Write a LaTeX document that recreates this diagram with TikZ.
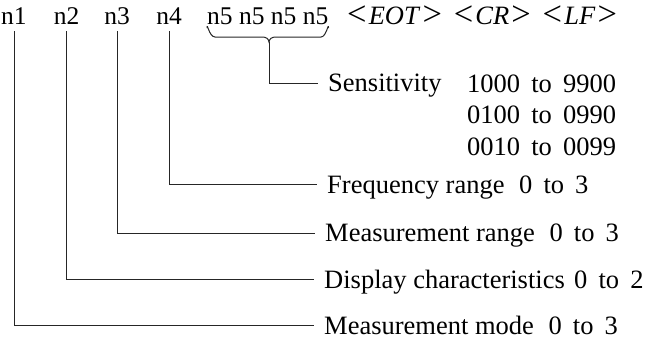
\documentclass[tikz,border=0pt]{standalone}
\usepackage{fontspec}
\usepackage{graphicx}
\setmainfont{Liberation Serif}
\newcommand\gapW{\hspace{0.55em}}
\newcommand\gapN{\hspace{0.42em}}
\newcommand\gapI{\hspace{0.08em}}
\newcommand\gapG{\hspace{0.45em}}
\newcommand\bigLT{\raisebox{-0.07em}{\scalebox{1.3}{\textless}}}
\newcommand\bigGT{\raisebox{-0.07em}{\scalebox{1.3}{\textgreater}}}
\begin{document}
\begin{tikzpicture}[x=1pt,y=-1pt,
  every node/.style={font=\fontsize{26.5}{31}\selectfont, inner sep=0pt},
  topnode/.style={font=\fontsize{25.5}{30}\selectfont, anchor=base, inner ysep=7pt, text depth=0pt},
  labnode/.style={anchor=west, inner xsep=10pt, inner ysep=0pt, text height=17.5pt, text depth=0pt},
  numnode/.style={anchor=base west},
  conn/.style={line width=1pt, draw=black!85}]
\useasboundingbox (0,0) rectangle (652,340);

% top row
\node[topnode] (n1) at (14,24) {n1};
\node[topnode] (n2) at (66.5,24) {n2};
\node[topnode] (n3) at (117,24) {n3};
\node[topnode] (n4) at (169,24) {n4};
\node[topnode, anchor=base west, inner ysep=4pt] (n5) at (207,24) {n5 n5 n5 n5};
\node[anchor=base west] (ctl) at (347,24) {\bigLT\gapI\textit{EOT}\gapI\bigGT\gapG\bigLT\gapI\textit{CR}\gapI\bigGT\gapG\bigLT\gapI\textit{LF}\gapI\bigGT};

% brace under n5 group
\coordinate (tip) at (269,42);
\draw[conn] (n5.south west) .. controls ([yshift=7pt]n5.south west) and (209,37) .. (215,37)
  -- (262,37) .. controls (266,37) and (268.5,38.5) .. (tip)
  .. controls (269.5,38.5) and (272,37) .. (276,37)
  -- (321,37) .. controls ([xshift=-2pt]n5.south east |- 0,37) and ([yshift=7pt]n5.south east) .. (n5.south east);

% labels
\node[labnode] (sens) at (318,83) {Sensitivity};
\node[numnode] (r1) at (467,92) {1000\gapN to\gapN 9900};
\node[numnode] (r2) at (467,123.5) {0100\gapN to\gapN 0990};
\node[numnode] (r3) at (467,155) {0010\gapN to\gapN 0099};

\node[labnode] (fr) at (317,184.5) {Frequency range\gapW 0\gapN to\gapN 3};
\node[labnode] (mr) at (315,233) {Measurement range\gapW 0\gapN to\gapN 3};
\node[labnode] (dc) at (314,279.5) {Display characteristics\hspace{0.35em}0\gapN to\gapN 2};
\node[labnode] (mm) at (314,325.5) {Measurement mode\gapW 0\gapN to\gapN 3};

% connectors
\draw[conn] (tip) |- (sens.west);
\draw[conn] (n4.south) |- (fr.west);
\draw[conn] (n3.south) |- (mr.west);
\draw[conn] (n2.south) |- (dc.west);
\draw[conn] (n1.south) |- (mm.west);
\end{tikzpicture}
\end{document}
